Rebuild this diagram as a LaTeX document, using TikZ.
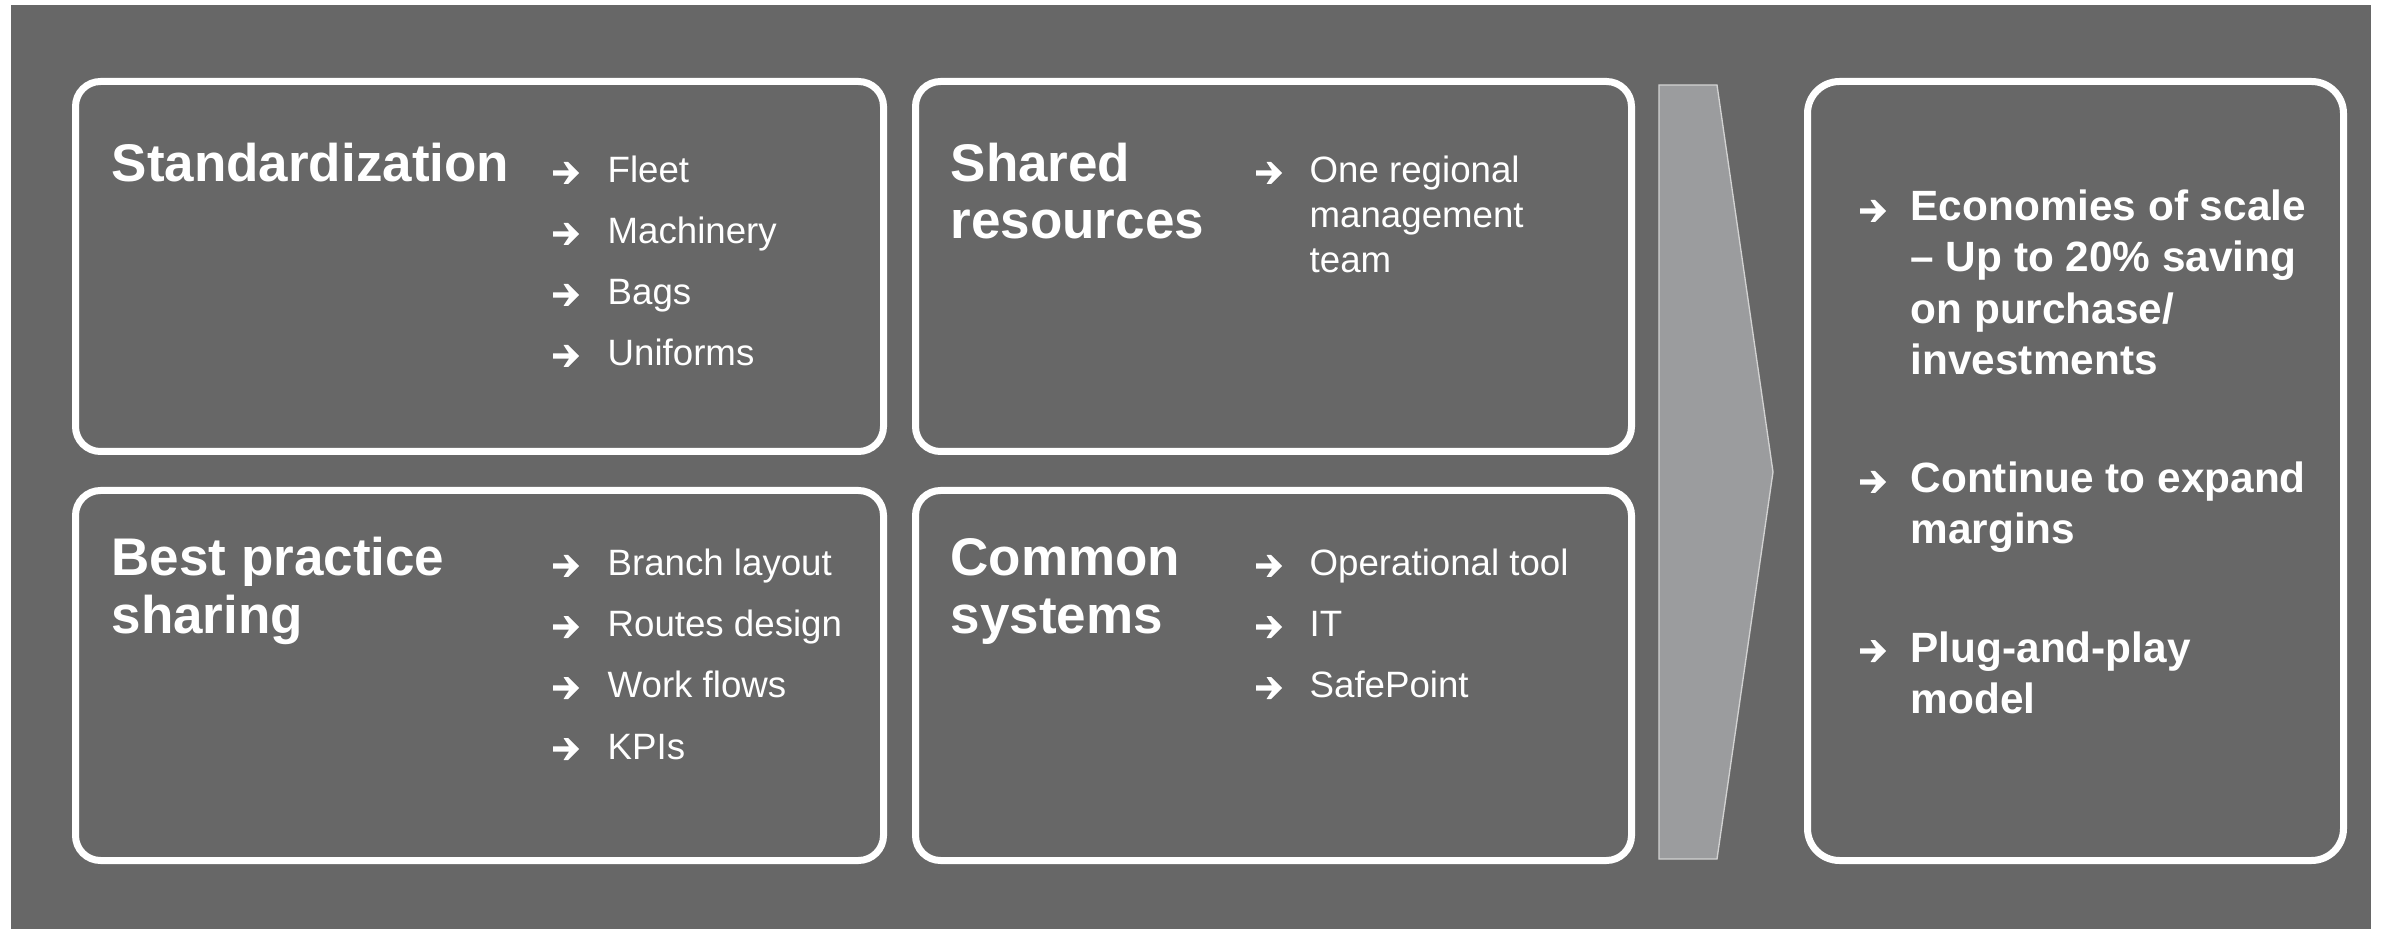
\documentclass[tikz,border=0pt]{standalone}
\usepackage{fontspec}
\setmainfont{Liberation Sans}
\definecolor{bg}{HTML}{676767}
\definecolor{arrowfill}{HTML}{9B9C9E}
\definecolor{arrowline}{HTML}{D2D2D2}
\newcommand{\bularrow}[1]{%
  \fill[white] ([shift={(0,-2.7)}]#1) -- ([shift={(16,-2.7)}]#1) -- ([shift={(10.5,-11)}]#1)
    -- ([shift={(15,-11)}]#1) -- ([shift={(26,0)}]#1) -- ([shift={(15,11)}]#1)
    -- ([shift={(10.5,11)}]#1) -- ([shift={(16,2.7)}]#1) -- ([shift={(0,2.7)}]#1) -- cycle;}
\begin{document}
\begin{tikzpicture}[x=0.3pt,y=-0.3pt,
  panel/.style={draw=white,line width=2.1pt,rounded corners=7.5pt},
  bigpanel/.style={draw=white,line width=2.1pt,rounded corners=9.6pt},
  head/.style={anchor=base west,inner sep=0,text=white,font=\fontsize{15.9}{17}\selectfont\bfseries},
  item/.style={anchor=base west,inner sep=0,text=white,font=\fontsize{11}{13}\selectfont},
  big/.style={anchor=base west,inner sep=0,text=white,font=\fontsize{12.7}{15}\selectfont\bfseries}]
\fill[white] (0,0) rectangle (2381,929);
\fill[bg] (11,5) rectangle (2371,929);
\useasboundingbox (0,0) rectangle (2381,929);
% panels
\draw[panel] (75.5,81.5) rectangle (883.5,451.5);
\draw[panel] (915.5,81.5) rectangle (1631.5,451.5);
\draw[panel] (75.5,490.5) rectangle (883.5,860.5);
\draw[panel] (915.5,490.5) rectangle (1631.5,860.5);
\draw[bigpanel] (1807.5,81.5) rectangle (2343.5,860.5);
% big arrow
\draw[fill=arrowfill,draw=arrowline,line width=0.4pt]
  (1659,85) -- (1717,85) -- (1773,472) -- (1717,859) -- (1659,859) -- cycle;
% Standardization
\node[head] (h1) at (111,182) {Standardization};
\foreach \t/\y [count=\i] in {Fleet/183,Machinery/244,Bags/305,Uniforms/366}{
  \coordinate (a1\i) at (553,\y-10);
  \bularrow{a1\i}
  \node[item] (t1\i) at (607,\y) {\t};
}
% Shared resources
\node[head] (h2a) at (950,182) {Shared};
\node[head] (h2b) at (950,239) {resources};
\foreach \t/\y [count=\i] in {One regional/183,management/228,team/273}{
  \node[item] (t2\i) at (1309,\y) {\t};
}
\coordinate (a21) at (1256,173);
\bularrow{a21}
% Best practice sharing
\node[head] (h3a) at (111,576) {Best practice};
\node[head] (h3b) at (111,633) {sharing};
\foreach \t/\y [count=\i] in {Branch layout/576,Routes design/637,Work flows/698,KPIs/759}{
  \coordinate (a3\i) at (553,\y-10);
  \bularrow{a3\i}
  \node[item] (t3\i) at (607,\y) {\t};
}
% Common systems
\node[head] (h4a) at (950,576) {Common};
\node[head] (h4b) at (950,633) {systems};
\foreach \t/\y [count=\i] in {Operational tool/576,IT/637,SafePoint/698}{
  \coordinate (a4\i) at (1256,\y-10);
  \bularrow{a4\i}
  \node[item] (t4\i) at (1309,\y) {\t};
}
% Results
\coordinate (a51) at (1860,211);
\bularrow{a51}
\node[big] (t51) at (1910,221) {Economies of scale};
\node[big] (t52) at (1910,272) {– Up to 20\% saving};
\node[big] (t53) at (1910,324) {on purchase/};
\node[big] (t54) at (1910,375) {investments};
\coordinate (a52) at (1860,482);
\bularrow{a52}
\node[big] (t55) at (1910,493) {Continue to expand};
\node[big] (t56) at (1910,544) {margins};
\coordinate (a53) at (1860,651);
\bularrow{a53}
\node[big] (t57) at (1910,662) {Plug-and-play};
\node[big] (t58) at (1910,713) {model};
\end{tikzpicture}
\end{document}
